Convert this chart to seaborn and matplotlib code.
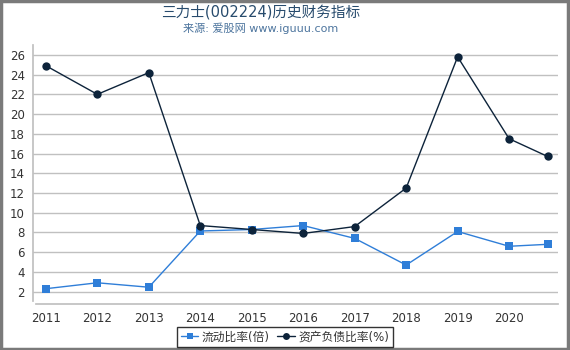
import matplotlib
matplotlib.use("Agg")
import matplotlib.pyplot as plt
import seaborn as sns
import pandas as pd
from matplotlib.patches import Rectangle
from matplotlib.lines import Line2D

years = [2011, 2012, 2013, 2014, 2015, 2016, 2017, 2018, 2019, 2020, 2020.75]
tick_years = [2011, 2012, 2013, 2014, 2015, 2016, 2017, 2018, 2019, 2020]
current_ratio = [2.3, 2.9, 2.45, 8.15, 8.3, 8.7, 7.4, 4.7, 8.1, 6.6, 6.8]
debt_ratio = [24.9, 22.0, 24.2, 8.7, 8.3, 7.9, 8.6, 12.5, 25.8, 17.5, 15.7]
series_names = ["流动比率(倍)", "资产负债比率(%)"]
y_ticks = [2, 4, 6, 8, 10, 12, 14, 16, 18, 20, 22, 24, 26]

sns.set_theme(style="white")
plt.rcParams['font.family'] = ['DejaVu Sans', 'Noto Sans CJK SC']

df = pd.DataFrame({
    "year": years * 2,
    "value": current_ratio + debt_ratio,
    "series": [series_names[0]] * len(years) + [series_names[1]] * len(years),
})

fig = plt.figure(figsize=(5.7, 3.5), dpi=100)
ax = fig.add_axes([33/570, 1-304/350, (558-33)/570, (304-45)/350])

palette = {series_names[0]: "#2f7ed8", series_names[1]: "#0d233a"}
markers = {series_names[0]: "s", series_names[1]: "o"}
sns.lineplot(data=df, x="year", y="value", hue="series", style="series",
             palette=palette, markers=markers, dashes=False, linewidth=1,
             markersize=6, markeredgewidth=0, ax=ax, legend=False)

ax.set_xlim(2010.75, 2020.95)
ax.set_ylim(0.75, 27)
ax.set_xticks(tick_years)
ax.set_xticklabels([str(y) for y in tick_years])
ax.set_yticks(y_ticks)
ax.set_xlabel("")
ax.set_ylabel("")
ax.yaxis.grid(True, color="#c0c0c0", linewidth=1)
ax.xaxis.grid(False)
for s in ["top", "right"]:
    ax.spines[s].set_visible(False)
ax.spines["left"].set_color("#c0c0c0")
ax.spines["left"].set_bounds(1.05, 27)
ax.spines["bottom"].set_color("#c0c0c0")
ax.spines["bottom"].set_bounds(2010.8, 2020.95)
ax.tick_params(axis="x", colors="#c0c0c0", length=4, width=1, labelcolor="#333333", labelsize=8.5, pad=2)
ax.tick_params(axis="y", colors="#c0c0c0", length=4, width=1, labelcolor="#333333", labelsize=8.5, pad=2)

fig.text(261/570, 0.967, "三力士(002224)历史财务指标", ha="center", va="center",
         fontsize=10.5, color="#274b6d")
fig.text(261/570, 0.918, "来源: 爱股网 www.iguuu.com", ha="center", va="center",
         fontsize=8, color="#4d759e")

handles = [Line2D([0], [0], color="#2f7ed8", marker="s", markersize=5, linewidth=1, markeredgewidth=0),
           Line2D([0], [0], color="#0d233a", marker="o", markersize=5, linewidth=1, markeredgewidth=0)]
leg = fig.legend(handles, series_names, loc="center", bbox_to_anchor=(0.5, 1-337/350),
                 ncol=2, frameon=True, fontsize=8.5, handlelength=1.5, handletextpad=0.3,
                 columnspacing=0.6, borderpad=0.3, fancybox=False)
leg.get_frame().set_edgecolor("#000000")
leg.get_frame().set_linewidth(1)
for t in leg.get_texts():
    t.set_color("#333333")

fig.patches.append(Rectangle((0.001, 0.002), 0.996, 0.996, transform=fig.transFigure,
                             fill=False, edgecolor="#7a7a7a", linewidth=2.5))

fig.savefig("out.png", dpi=100)
